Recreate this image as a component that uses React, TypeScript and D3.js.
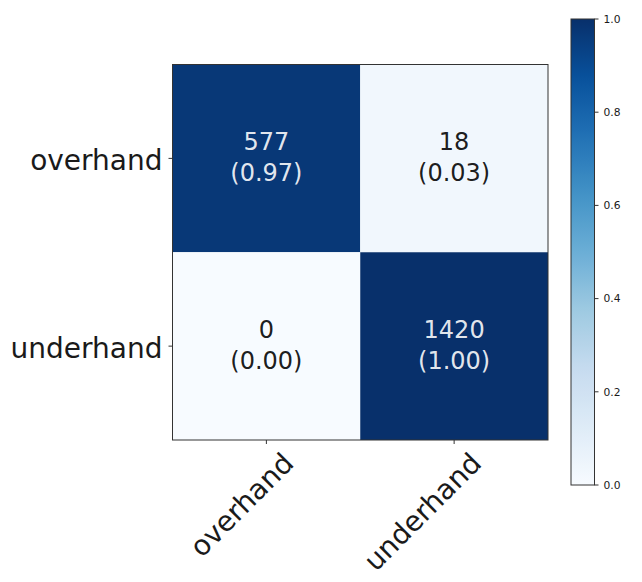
import React from "react";
import * as d3 from "d3";

const categories = ["overhand", "underhand"];
const counts = [
  [577, 18],
  [0, 1420],
];
const normalized = [
  [0.97, 0.03],
  [0.0, 1.0],
];
const colorbarTicks = [0.0, 0.2, 0.4, 0.6, 0.8, 1.0];
const bluesStops = ["#f7fbff", "#deebf7", "#c6dbef", "#9ecae1", "#6baed6", "#4292c6", "#2171b5", "#08519c", "#08306b"];

const W = 642;
const H = 582;
const plot = { left: 172.5, top: 64.5, size: 375.5 };
const cbar = { left: 571, right: 594.5, top: 19, bottom: 485 };
const FONT = "DejaVu Sans, sans-serif";

export default function App() {
  const color = d3
    .scaleLinear<string>()
    .domain(bluesStops.map((_, i) => i / (bluesStops.length - 1)))
    .range(bluesStops)
    .interpolate(d3.interpolateRgb);

  const x = d3.scaleBand<string>().domain(categories).range([plot.left, plot.left + plot.size]);
  const y = d3.scaleBand<string>().domain(categories).range([plot.top, plot.top + plot.size]);
  const cy = d3.scaleLinear().domain([0, 1]).range([cbar.bottom, cbar.top]);

  const gradStops = d3.range(0, 1.0001, 0.02);

  return (
    <svg width={W} height={H} style={{ position: "absolute", left: 0, top: 0, background: "#fff" }}>
      <defs>
        <linearGradient id="cbgrad" x1="0" y1="1" x2="0" y2="0">
          {gradStops.map((t) => (
            <stop key={t} offset={t} stopColor={color(t)} />
          ))}
        </linearGradient>
      </defs>

      {/* cells */}
      {categories.map((rowCat, i) =>
        categories.map((colCat, j) => {
          const v = normalized[i][j];
          const x0 = x(colCat)!;
          const y0 = y(rowCat)!;
          const cx = x0 + x.bandwidth() / 2;
          const cyy = y0 + y.bandwidth() / 2;
          const txtColor = v > 0.5 ? "#ffffff" : "#000000";
          return (
            <g key={`${i}-${j}`}>
              <rect x={x0} y={y0} width={x.bandwidth()} height={y.bandwidth()} fill={color(v)} />
              <text x={cx} y={cyy - 8} textAnchor="middle" fontFamily={FONT} fontSize={24} fill={txtColor} fillOpacity={0.9}>
                {counts[i][j]}
              </text>
              <text x={cx} y={cyy + 23} textAnchor="middle" fontFamily={FONT} fontSize={24} fill={txtColor} fillOpacity={0.9}>
                ({v.toFixed(2)})
              </text>
            </g>
          );
        })
      )}

      {/* frame */}
      <rect x={plot.left} y={plot.top} width={plot.size} height={plot.size} fill="none" stroke="#333" strokeWidth={1} />

      {/* y ticks */}
      {categories.map((c) => {
        const yy = y(c)! + y.bandwidth() / 2;
        return (
          <g key={`y-${c}`}>
            <line x1={plot.left - 4} x2={plot.left} y1={yy} y2={yy} stroke="#333" strokeWidth={1} />
            <text x={plot.left - 10} y={yy + 11.5} textAnchor="end" fontFamily={FONT} fontSize={28} fill="#1a1a1a">
              {c}
            </text>
          </g>
        );
      })}

      {/* x ticks */}
      {categories.map((c) => {
        const xx = x(c)! + x.bandwidth() / 2;
        const bottom = plot.top + plot.size;
        return (
          <g key={`x-${c}`}>
            <line x1={xx} x2={xx} y1={bottom} y2={bottom + 4} stroke="#333" strokeWidth={1} />
            <text
              transform={`translate(${xx + 29},${bottom + 25}) rotate(-45)`}
              textAnchor="end"
              fontFamily={FONT}
              fontSize={28}
              fill="#1a1a1a"
            >
              {c}
            </text>
          </g>
        );
      })}

      {/* colorbar */}
      <rect x={cbar.left} y={cbar.top} width={cbar.right - cbar.left} height={cbar.bottom - cbar.top} fill="url(#cbgrad)" stroke="#333" strokeWidth={1} />
      {colorbarTicks.map((t) => (
        <g key={`cb-${t}`}>
          <line x1={cbar.right} x2={cbar.right + 4} y1={cy(t)} y2={cy(t)} stroke="#333" strokeWidth={1} />
          <text x={cbar.right + 9} y={cy(t)} dy="0.35em" fontFamily={FONT} fontSize={10.7} fill="#1a1a1a">
            {t.toFixed(1)}
          </text>
        </g>
      ))}
    </svg>
  );
}
